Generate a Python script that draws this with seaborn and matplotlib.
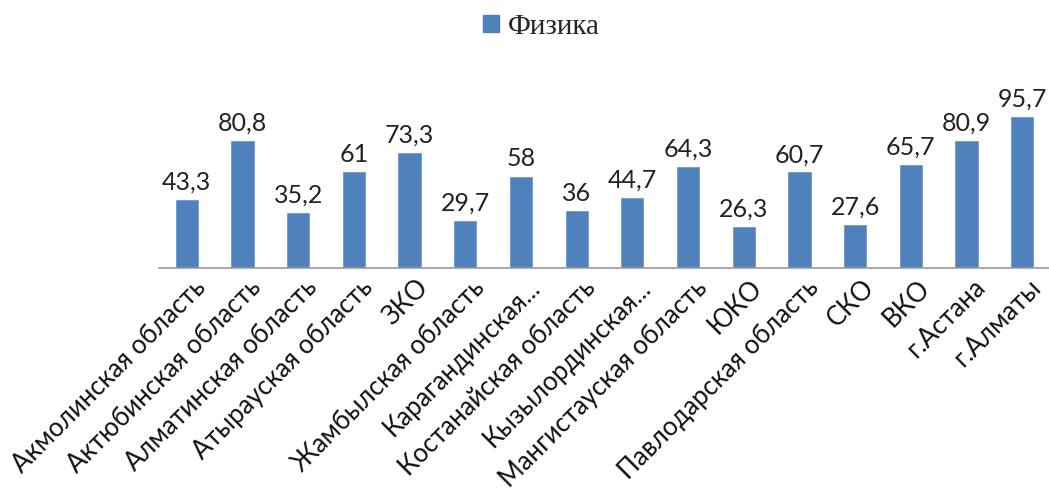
import matplotlib

matplotlib.use("Agg")

import matplotlib.pyplot as plt
import matplotlib.transforms as mtransforms
import pandas as pd
import seaborn as sns

regions = [
    "Акмолинская область",
    "Актюбинская область",
    "Алматинская область",
    "Атырауская область",
    "ЗКО",
    "Жамбылская область",
    "Карагандинская...",
    "Костанайская область",
    "Кызылординская...",
    "Мангистауская область",
    "ЮКО",
    "Павлодарская область",
    "СКО",
    "ВКО",
    "г.Астана",
    "г.Алматы",
]
physics = [43.3, 80.8, 35.2, 61, 73.3, 29.7, 58, 36, 44.7, 64.3, 26.3, 60.7, 27.6, 65.7, 80.9, 95.7]

BAR_COLOR = "#4F81BD"

df = pd.DataFrame({"region": regions, "value": physics, "subject": "Физика"})

sns.set_style("white")
plt.rcParams["font.family"] = ["Lato", "DejaVu Sans"]

fig = plt.figure(figsize=(10.49, 4.95), dpi=100)
n = len(regions)
# baseline at y=268 px, category slots ~55.7 px wide starting at x=159
ax = fig.add_axes([159 / 1049, (495 - 268) / 495, 891 / 1049, (268 - 79) / 495])

sns.barplot(
    data=df,
    x="region",
    y="value",
    hue="subject",
    palette=[BAR_COLOR],
    saturation=1,
    width=0.4,
    edgecolor="#6E98CC",
    linewidth=0.6,
    ax=ax,
    legend=False,
)

# value labels above each bar, with a decimal comma
for patch, val in zip(ax.patches, physics):
    label = f"{val:g}".replace(".", ",")
    ax.text(
        patch.get_x() + patch.get_width() / 2,
        patch.get_height() + 4,
        label,
        ha="center",
        va="bottom",
        fontsize=18,
        color="#222222",
    )

ax.set_ylim(0, 120)
ax.set_xlim(-0.5, n - 0.5)
ax.set_yticks([])
ax.set_xlabel("")
ax.set_ylabel("")
for side in ["top", "right", "left"]:
    ax.spines[side].set_visible(False)
ax.spines["bottom"].set_color("#9a9a9a")
ax.spines["bottom"].set_linewidth(1.2)
ax.tick_params(axis="x", length=0, pad=5)
shift = mtransforms.ScaledTranslation(6 / 100, 0, fig.dpi_scale_trans)
for lbl in ax.get_xticklabels():
    lbl.set_rotation(45)
    lbl.set_ha("right")
    lbl.set_rotation_mode("anchor")
    lbl.set_fontsize(18.5)
    lbl.set_color("#111111")
    lbl.set_transform(lbl.get_transform() + shift)

handle = plt.Rectangle((0, 0), 1, 1, color=BAR_COLOR)
fig.legend(
    [handle],
    ["Физика"],
    loc="center",
    bbox_to_anchor=(541 / 1049, 1 - 27 / 495),
    frameon=False,
    prop={"family": "Liberation Serif", "size": 21},
    handlelength=0.55,
    handleheight=0.55,
    handletextpad=0.3,
)

fig.savefig("out.png", dpi=100)
